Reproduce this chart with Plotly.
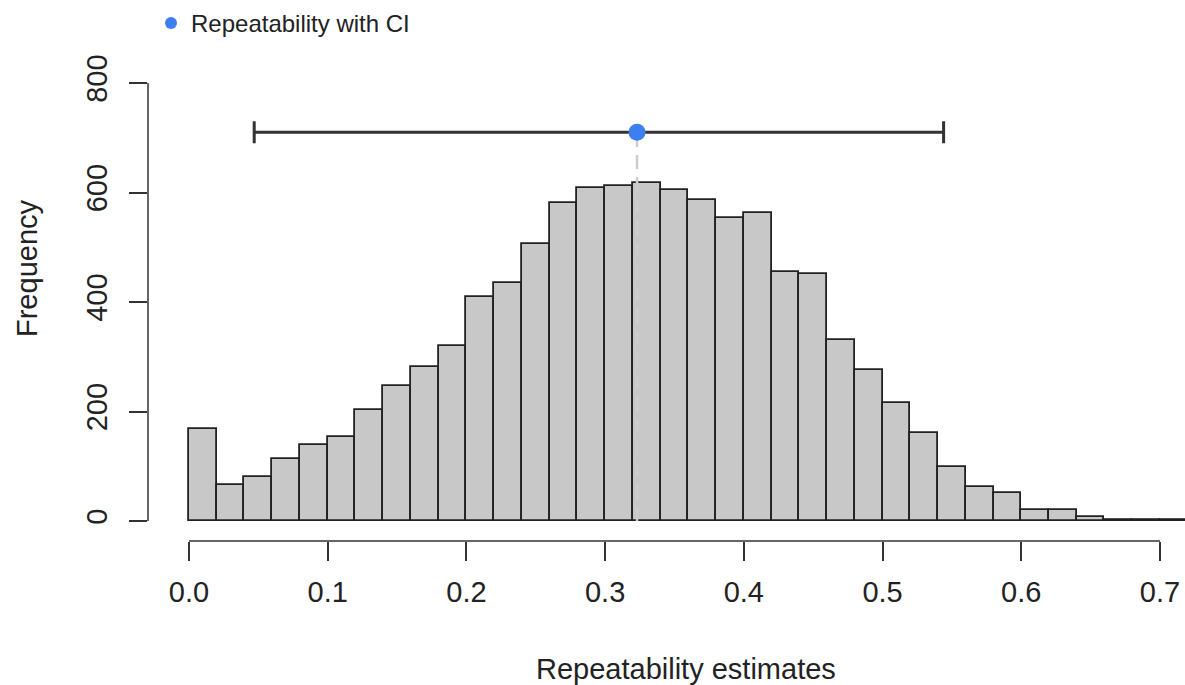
import plotly.graph_objects as go

# Histogram of bootstrap repeatability estimates (bin width 0.02)
bin_left = [0.00, 0.02, 0.04, 0.06, 0.08, 0.10, 0.12, 0.14, 0.16, 0.18,
            0.20, 0.22, 0.24, 0.26, 0.28, 0.30, 0.32, 0.34, 0.36, 0.38,
            0.40, 0.42, 0.44, 0.46, 0.48, 0.50, 0.52, 0.54, 0.56, 0.58,
            0.60, 0.62, 0.64, 0.66, 0.68, 0.70]
counts = [168, 65, 81, 113, 138, 154, 203, 247, 281, 320,
          409, 434, 506, 581, 608, 612, 617, 605, 586, 553,
          562, 455, 451, 331, 276, 215, 161, 99, 63, 52,
          20, 20, 8, 2, 1, 2]
bin_width = 0.02

# Point estimate with its confidence interval
estimate = 0.323
ci_lower = 0.047
ci_upper = 0.544
ci_height = 710

x_ticks = [0.0, 0.1, 0.2, 0.3, 0.4, 0.5, 0.6, 0.7]
x_tick_text = ["0.0", "0.1", "0.2", "0.3", "0.4", "0.5", "0.6", "0.7"]
y_ticks = [0, 200, 400, 600, 800]
y_tick_text = ["0", "200", "400", "600", "800"]

FONT = "Liberation Sans, Arial, Helvetica, sans-serif"
AXIS_COL = "#333333"
TEXT_COL = "#222222"
BLUE = "#3D7EF0"

bin_mid = [b + bin_width / 2 for b in bin_left]

fig = go.Figure()

fig.add_trace(go.Bar(
    x=bin_mid, y=counts, width=bin_width,
    marker=dict(color="#C8C8C8", line=dict(color="#222222", width=1.8)),
    showlegend=False, hoverinfo="x+y",
))

# dashed guide from the estimate down to the baseline
fig.add_trace(go.Scatter(
    x=[estimate, estimate], y=[0, ci_height], mode="lines",
    line=dict(color="#CDCDCD", width=2.5, dash="14px,8px"),
    showlegend=False, hoverinfo="skip",
))

fig.add_trace(go.Scatter(
    x=[estimate], y=[ci_height], mode="markers",
    name="Repeatability with CI",
    marker=dict(color=BLUE, size=17),
    error_x=dict(type="data", symmetric=False,
                 array=[ci_upper - estimate],
                 arrayminus=[estimate - ci_lower],
                 color=AXIS_COL, thickness=3, width=11),
    showlegend=True,
))

# detached axis lines spanning only the labelled range
fig.add_shape(type="line", xref="paper", yref="y", x0=0, x1=0,
              y0=y_ticks[0], y1=y_ticks[-1],
              line=dict(color=AXIS_COL, width=1.5))
fig.add_shape(type="line", xref="x", yref="paper", x0=x_ticks[0], x1=x_ticks[-1],
              y0=0, y1=0, line=dict(color=AXIS_COL, width=1.5))

fig.add_annotation(text="Frequency", xref="paper", yref="paper",
                   x=(27 - 148) / 1037, y=(541 - 268) / 481, textangle=-90,
                   showarrow=False, xanchor="center", yanchor="middle",
                   font=dict(family=FONT, size=29, color=TEXT_COL))
fig.add_annotation(text="Repeatability estimates", xref="paper", yref="paper",
                   x=(686 - 148) / 1037, y=(541 - 669) / 481,
                   showarrow=False, xanchor="center", yanchor="middle",
                   font=dict(family=FONT, size=29, color=TEXT_COL))

fig.update_layout(
    width=1185, height=685,
    margin=dict(l=148, r=0, t=60, b=144, autoexpand=False),
    plot_bgcolor="white", paper_bgcolor="white",
    bargap=0,
    font=dict(family=FONT, color=TEXT_COL),
    legend=dict(x=0.0029, y=1.076, xanchor="left", yanchor="middle",
                itemsizing="constant", bgcolor="rgba(0,0,0,0)",
                font=dict(family=FONT, size=24, color=TEXT_COL)),
    xaxis=dict(range=[-0.02956, 0.71804], showgrid=False, zeroline=False,
               showline=False, ticks="outside", ticklen=19, tickwidth=1.5,
               tickcolor=AXIS_COL, tickvals=x_ticks, ticktext=x_tick_text,
               tickfont=dict(family=FONT, size=29, color=TEXT_COL),
               ticklabelstandoff=6),
    yaxis=dict(range=[-36.53, 842], showgrid=False, zeroline=False,
               showline=False, ticks="outside", ticklen=18, tickwidth=1.5,
               tickcolor=AXIS_COL, tickvals=y_ticks, ticktext=y_tick_text,
               tickangle=-90,
               tickfont=dict(family=FONT, size=29, color=TEXT_COL),
               ticklabelstandoff=10),
)

fig.write_html("out.html")
